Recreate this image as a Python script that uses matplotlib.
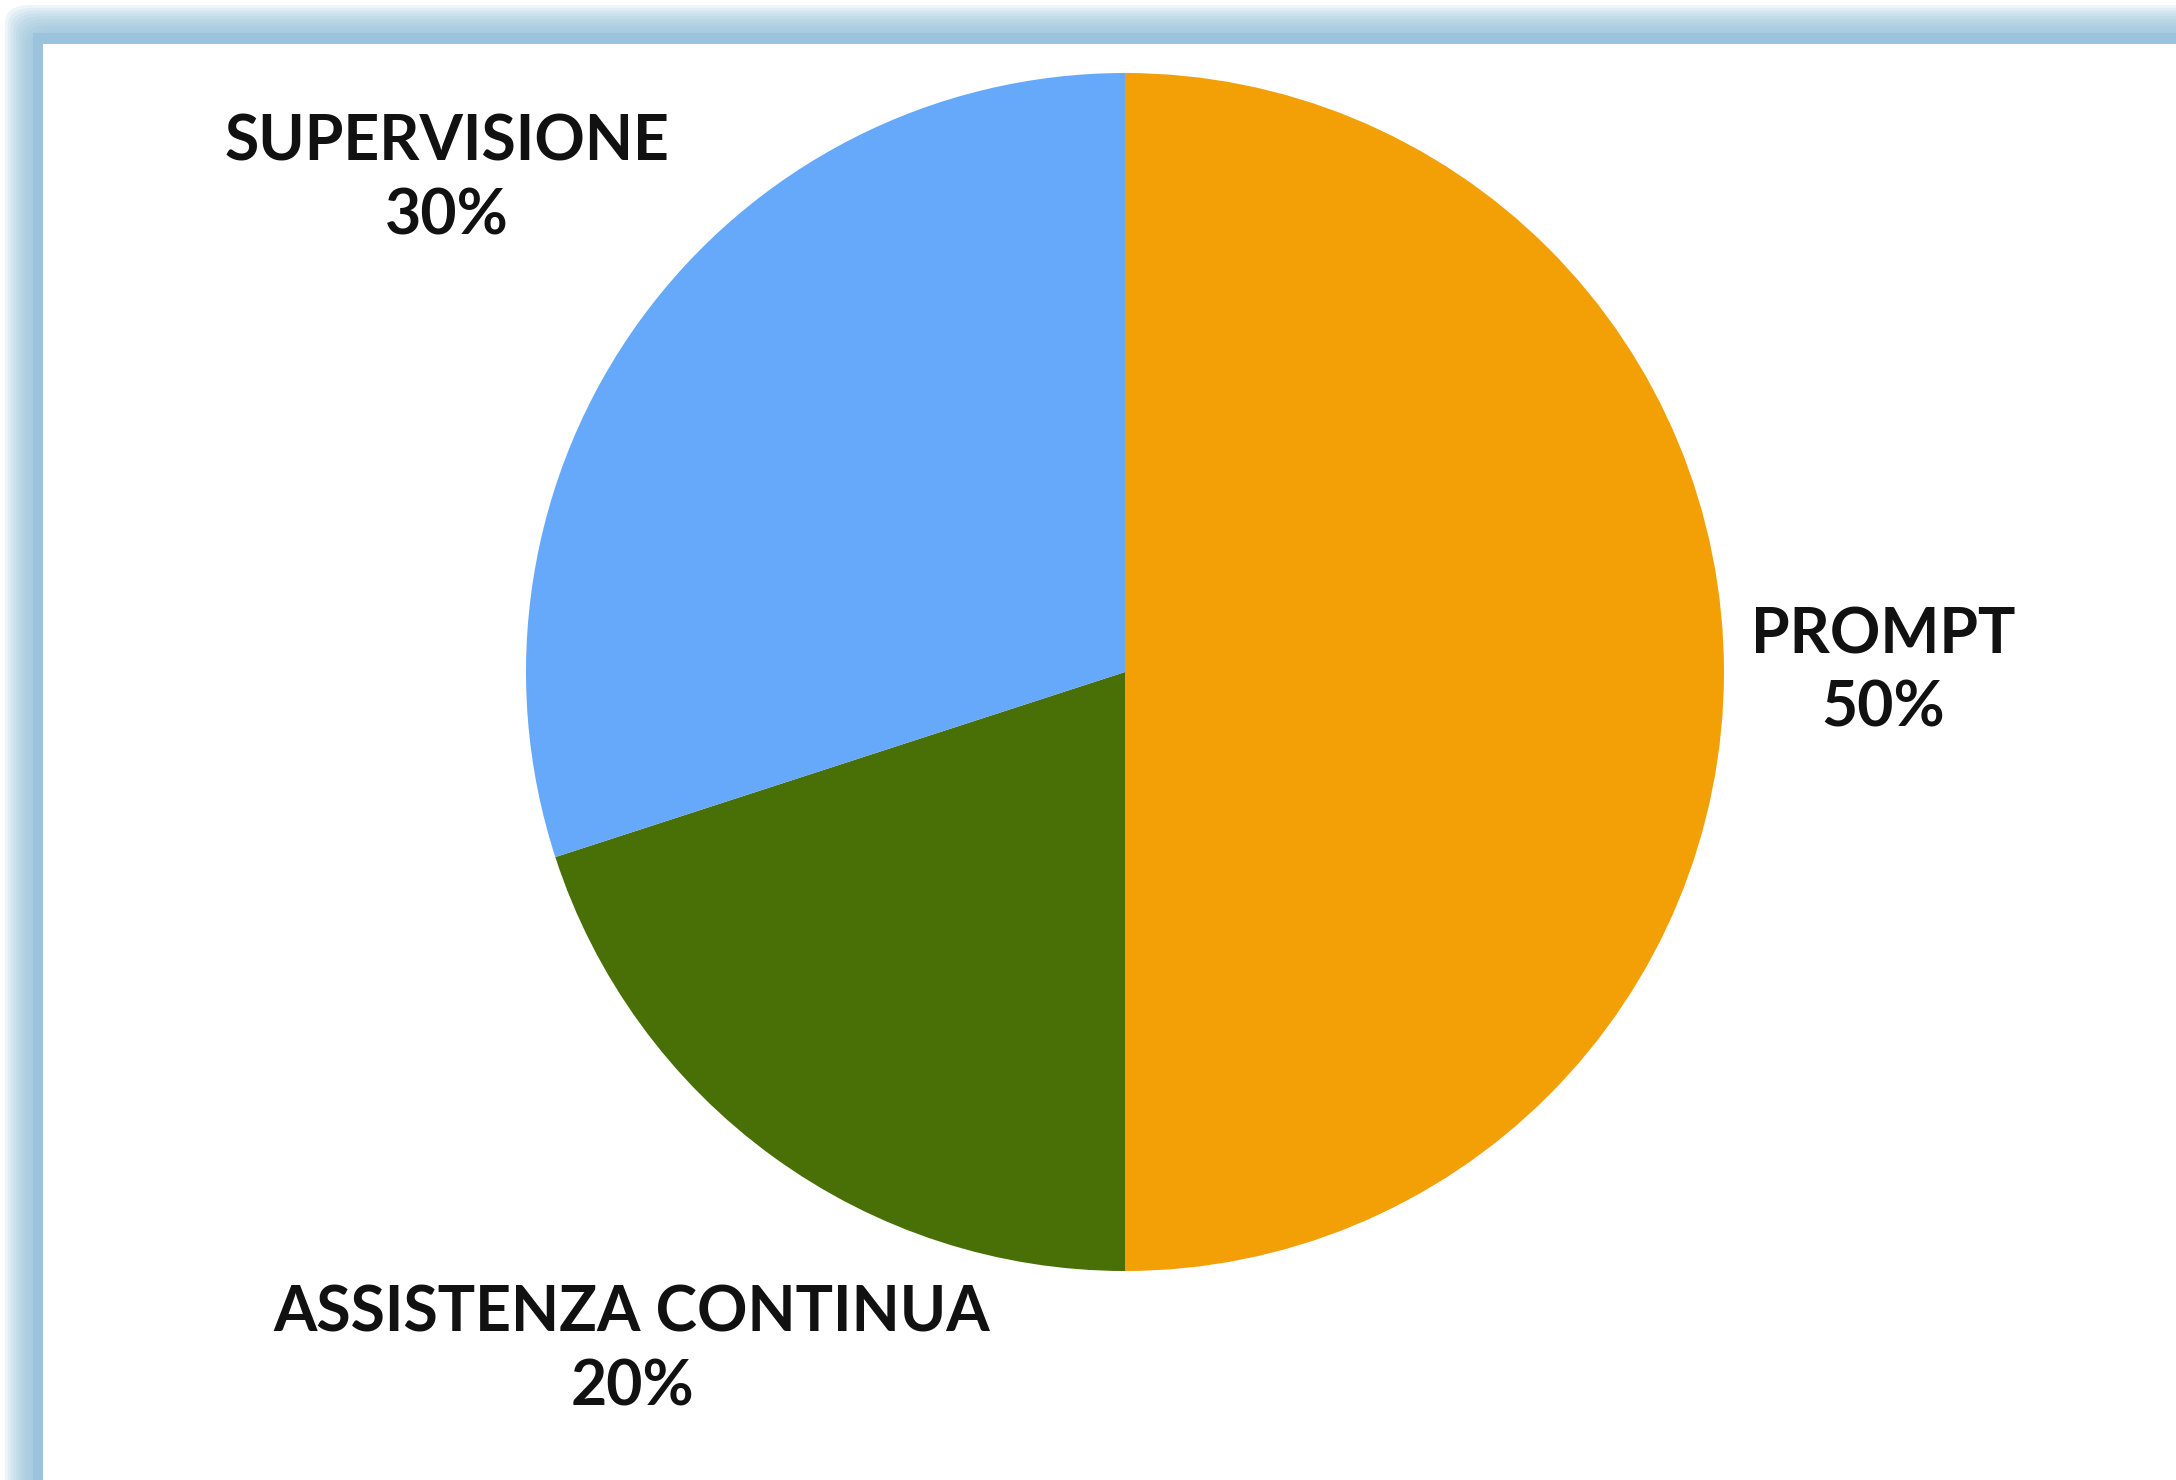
import numpy as np
import matplotlib

matplotlib.use("Agg")

import matplotlib.pyplot as plt
from matplotlib.patches import Rectangle, FancyBboxPatch

# data
labels = ["PROMPT", "ASSISTENZA CONTINUA", "SUPERVISIONE"]
shares = [50, 20, 30]
colors = ["#F2A006", "#487006", "#66A8F9"]
label_dist = [1.265, 1.40, 1.40]

W, H = 2176, 1480
DPI = 100

plt.rcParams["font.family"] = ["Lato", "DejaVu Sans"]

fig = plt.figure(figsize=(W / DPI, H / DPI), dpi=DPI)
fig.patch.set_facecolor("white")


def px_rect(x0, y0, x1, y1):
    """pixel box (top-left origin) -> figure fraction (left, bottom, w, h)"""
    return x0 / W, 1 - y1 / H, (x1 - x0) / W, (y1 - y0) / H


# soft blue glow + solid frame, running off the right and bottom edges
frame_col = np.array([155, 196, 220]) / 255
n_glow = 10
for k in range(n_glow):
    f = k / n_glow
    l, b, w, h = px_rect(5 + 28 * f, 5 + 28 * f, W + 200, H + 200)
    fig.patches.append(FancyBboxPatch(
        (l, b), w, h, boxstyle="round,pad=0,rounding_size=0.012",
        transform=fig.transFigure, facecolor=frame_col, alpha=0.16,
        edgecolor="none", zorder=0))
l, b, w, h = px_rect(33, 33, W + 200, H + 200)
fig.patches.append(Rectangle((l, b), w, h, transform=fig.transFigure,
                             facecolor=frame_col, edgecolor="none", zorder=1))
l, b, w, h = px_rect(43, 44, W + 200, H + 200)
fig.patches.append(Rectangle((l, b), w, h, transform=fig.transFigure,
                             facecolor="white", edgecolor="none", zorder=2))

# pie axes: centre (1125, 672) px, radius 599 px
cx, cy, r = 1125, 672, 599
ax = fig.add_axes(px_rect(cx - r, cy - r, cx + r, cy + r))
ax.set_zorder(3)
wedges, _ = ax.pie(shares, colors=colors, startangle=90, counterclock=False,
                   radius=1, wedgeprops=dict(linewidth=0, antialiased=True))
ax.set_xlim(-1, 1)
ax.set_ylim(-1, 1)
ax.set_aspect("equal")
ax.axis("off")

for wdg, lab, val, d in zip(wedges, labels, shares, label_dist):
    ang = np.deg2rad((wdg.theta1 + wdg.theta2) / 2)
    ax.text(d * np.cos(ang), d * np.sin(ang), f"{lab}\n{val}%",
            ha="center", va="center", multialignment="center",
            fontsize=45, fontweight="bold", color="#111111",
            linespacing=1.34, clip_on=False)

fig.savefig("out.png", dpi=DPI)
